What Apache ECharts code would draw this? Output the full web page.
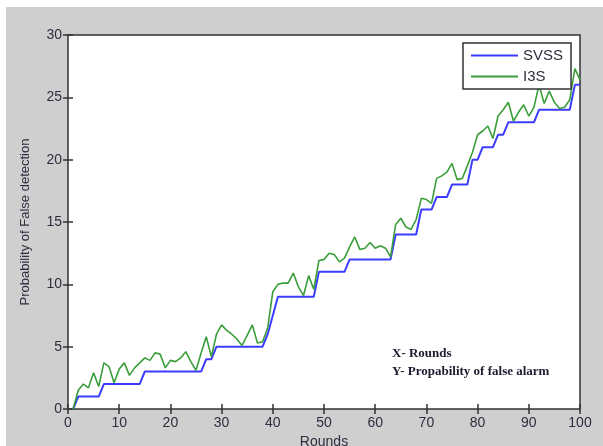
<!DOCTYPE html>
<html>
<head>
<meta charset="utf-8">
<script src="https://cdn.jsdelivr.net/npm/echarts@6/dist/echarts.min.js"></script>
<style>
html,body{margin:0;padding:0;background:#fff;}
#c{width:603px;height:446px;background:linear-gradient(#cfcfcf,#cfcfcf) no-repeat 6px 7px / 597px 439px, #ffffff;}
</style>
</head>
<body>
<div id="c"></div>
<script>
const rounds = [1,2,3,4,5,6,7,8,9,10,11,12,13,14,15,16,17,18,19,20,21,22,23,24,25,26,27,28,29,30,31,32,33,34,35,36,37,38,39,40,41,42,43,44,45,46,47,48,49,50,51,52,53,54,55,56,57,58,59,60,61,62,63,64,65,66,67,68,69,70,71,72,73,74,75,76,77,78,79,80,81,82,83,84,85,86,87,88,89,90,91,92,93,94,95,96,97,98,99,100];
const svss = [0,1,1,1,1,1,2,2,2,2,2,2,2,2,3,3,3,3,3,3,3,3,3,3,3,3,4,4,5,5,5,5,5,5,5,5,5,5,6,7.5,9,9,9,9,9,9,9,9,11,11,11,11,11,11,12,12,12,12,12,12,12,12,12,14,14,14,14,14,16,16,16,17,17,17,18,18,18,18,20,20,21,21,21,22,22,23,23,23,23,23,23,24,24,24,24,24,24,24,26,26];
const i3s = [0,1.5,2.0,1.7,2.9,1.8,3.7,3.4,2.1,3.2,3.7,2.7,3.3,3.7,4.1,3.9,4.5,4.4,3.3,3.9,3.8,4.1,4.6,3.8,3.1,4.5,5.8,4.2,6.0,6.75,6.3,6.0,5.6,5.1,5.9,6.75,5.3,5.4,6.5,9.4,10.0,10.1,10.1,10.9,9.8,9.1,10.7,9.6,11.9,12.0,12.5,12.4,11.8,12.1,13.0,13.8,12.8,12.9,13.35,12.9,13.1,12.9,12.2,14.8,15.3,14.6,14.4,15.2,16.9,16.8,16.5,18.5,18.7,19.0,19.7,18.4,18.5,19.5,20.6,22.0,22.3,22.7,21.7,23.5,24.0,24.6,23.1,23.8,24.4,23.5,24.2,26.0,24.5,25.5,24.6,24.1,24.2,24.8,27.3,26.4];
const seriesNames = ['SVSS','I3S'];
const xTitle = 'Rounds';
const yTitle = 'Probability of False detection';
const notes = ['X- Rounds','Y- Propability of false alarm'];

const chart = echarts.init(document.getElementById('c'));
const pair = (ys) => rounds.map((r, i) => [r, ys[i]]);
const labelColor = '#2e2e3e';
const axisCommon = {
  type: 'value',
  splitLine: {show: false},
  axisLine: {show: false},
  axisTick: {show: true, inside: true, length: 5, lineStyle: {color: '#333', width: 1.5}},
};
chart.setOption({
  backgroundColor: 'transparent',
  animation: false,
  grid: {left: 68, right: 23, top: 35, bottom: 37, show: true, containLabel: false, outerBoundsMode: 'none', backgroundColor: '#ffffff', borderColor: '#333', borderWidth: 1.5},
  legend: {
    orient: 'vertical', left: 463, top: 43, width: 112, height: 46,
    padding: [5, 8, 5, 8], itemGap: 6,
    backgroundColor: '#fff', borderColor: '#333', borderWidth: 1.5,
    itemWidth: 47, itemHeight: 2, icon: 'rect',
    textStyle: {fontFamily: 'Liberation Sans, Arial', fontSize: 15, color: labelColor},
    data: seriesNames
  },
  xAxis: [
    Object.assign({}, axisCommon, {min: 0, max: 100, interval: 10,
      axisLabel: {color: labelColor, fontSize: 14, fontFamily: 'Liberation Sans, Arial', margin: 7},
      name: xTitle, nameLocation: 'middle', nameGap: 24,
      nameTextStyle: {color: labelColor, fontSize: 14, fontFamily: 'Liberation Sans, Arial', verticalAlign: 'top'}}),
    Object.assign({}, axisCommon, {min: 0, max: 100, interval: 10, position: 'top', axisLabel: {show: false}})
  ],
  yAxis: [
    Object.assign({}, axisCommon, {min: 0, max: 30, interval: 5,
      axisLabel: {color: labelColor, fontSize: 14, fontFamily: 'Liberation Sans, Arial', margin: 6},
      name: yTitle, nameLocation: 'middle', nameGap: 36, nameRotate: 90,
      nameTextStyle: {color: labelColor, fontSize: 13, fontFamily: 'Liberation Sans, Arial'}}),
    Object.assign({}, axisCommon, {min: 0, max: 30, interval: 5, position: 'right', axisLabel: {show: false}})
  ],
  series: [
    {name: seriesNames[0], type: 'line', data: pair(svss), symbol: 'none', color: '#3c3cff', lineStyle: {width: 2, color: '#3c3cff'}},
    {name: seriesNames[1], type: 'line', data: pair(i3s), symbol: 'none', color: '#3a9e3a', lineStyle: {width: 1.6, color: '#3a9e3a'}}
  ],
  graphic: [
    {type: 'text', left: 392, top: 347, z: 100, style: {text: notes[0], font: 'bold 13px "Liberation Serif", "Times New Roman", serif', fill: '#1c1c30'}},
    {type: 'text', left: 392, top: 365, z: 100, style: {text: notes[1], font: 'bold 13px "Liberation Serif", "Times New Roman", serif', fill: '#1c1c30'}}
  ]
});
</script>
</body>
</html>
